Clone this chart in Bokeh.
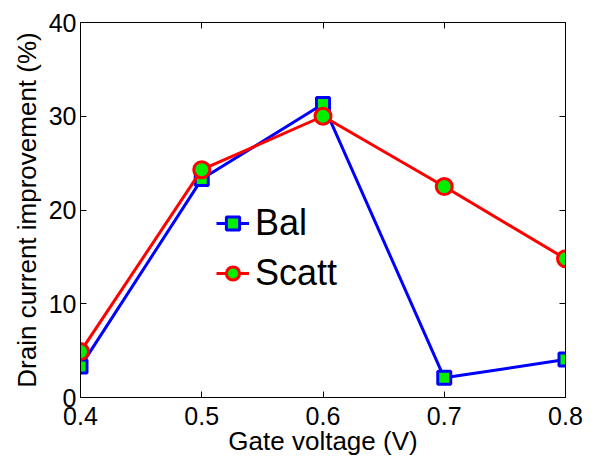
from bokeh.plotting import figure
from bokeh.models import LinearAxis, Legend, LegendItem, Range1d, FixedTicker, CustomJSTickFormatter
from bokeh.embed import file_html
from bokeh.resources import INLINE

gate_v = [0.4, 0.5, 0.6, 0.7, 0.8]
bal = [3.3, 23.3, 31.3, 2.1, 4.05]
scatt = [4.9, 24.3, 30.0, 22.5, 14.8]
x_ticks = [0.4, 0.5, 0.6, 0.7, 0.8]
y_ticks = [0, 10, 20, 30, 40]

FONT = "Liberation Sans"

p = figure(width=600, height=457, output_backend="svg", toolbar_location=None,
           x_range=Range1d(0.4, 0.8), y_range=Range1d(0, 40),
           min_border_left=80, min_border_right=35, min_border_top=22, min_border_bottom=60)
p.frame_width = 485
p.frame_height = 375
p.xgrid.visible = False
p.ygrid.visible = False
p.outline_line_color = "black"
p.outline_line_width = 1

for ax in [p.xaxis[0], p.yaxis[0]]:
    ax.major_tick_in = 6
    ax.major_tick_out = 0
    ax.minor_tick_in = 0
    ax.minor_tick_out = 0
    ax.axis_line_color = "black"
    ax.major_tick_line_color = "black"
    ax.major_label_text_font = FONT
    ax.major_label_text_font_size = "25px"
    ax.major_label_text_color = "black"
    ax.axis_label_text_font = FONT
    ax.axis_label_text_font_size = "26px"
    ax.axis_label_text_font_style = "normal"
    ax.axis_label_text_color = "black"

p.xaxis.ticker = FixedTicker(ticks=x_ticks)
p.yaxis.ticker = FixedTicker(ticks=y_ticks)
p.xaxis.major_label_standoff = 9
p.yaxis.major_label_standoff = 4
p.xaxis.axis_label = "Gate voltage (V)"
p.yaxis.axis_label = "Drain current improvement (%)"
p.xaxis.axis_label_standoff = -2
p.yaxis.axis_label_standoff = 4

for loc, ticks in [("right", y_ticks), ("above", x_ticks)]:
    ax = LinearAxis(ticker=FixedTicker(ticks=ticks), major_tick_in=6, major_tick_out=0,
                    minor_tick_in=0, minor_tick_out=0,
                    formatter=CustomJSTickFormatter(code="return ''"),
                    major_label_standoff=0, axis_line_color="black")
    p.add_layout(ax, loc)

l1 = p.line(gate_v, bal, line_color="blue", line_width=3)
s1 = p.scatter(gate_v, bal, marker="square", size=13, fill_color="#00ee00",
               line_color="blue", line_width=3)
l2 = p.line(gate_v, scatt, line_color="red", line_width=3)
s2 = p.scatter(gate_v, scatt, marker="circle", size=16, fill_color="#00ee00",
               line_color="red", line_width=3)

legend = Legend(items=[LegendItem(label="Bal", renderers=[l1, s1]),
                       LegendItem(label="Scatt", renderers=[l2, s2])],
                location=(136, 103), orientation="vertical",
                background_fill_alpha=0, border_line_alpha=0,
                label_text_font=FONT, label_text_font_size="36px",
                label_text_color="black", label_text_baseline="middle",
                glyph_width=33, glyph_height=40, label_standoff=6,
                spacing=8, padding=0, margin=0)
p.add_layout(legend, "center")

open("out.html", "w").write(file_html(p, INLINE))
